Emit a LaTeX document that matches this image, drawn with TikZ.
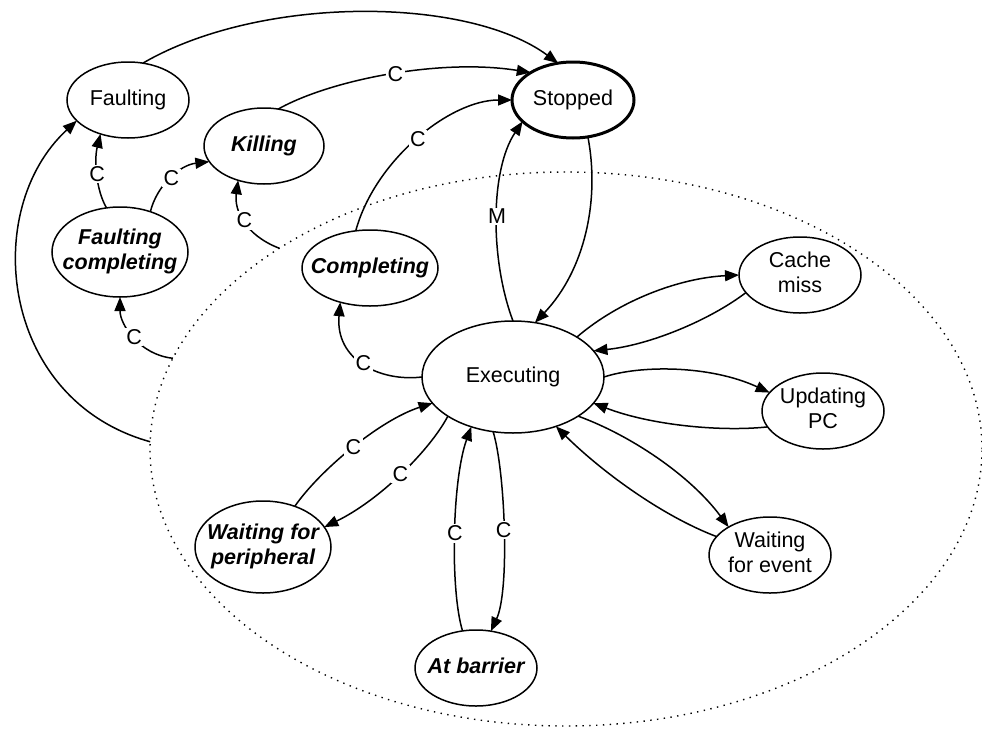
\documentclass[tikz,border=0pt]{standalone}
\usepackage{fontspec}
\setmainfont{Liberation Sans}
\usetikzlibrary{shapes.geometric,arrows.meta}
\newcommand{\statetext}[1]{\makebox[0pt]{\begin{tabular}{@{}c@{}}#1\end{tabular}}}
\begin{document}
\begin{tikzpicture}[x=1pt,y=-1pt,
  state/.style={draw, ellipse, fill=white, line width=1.5pt, inner sep=0pt, outer sep=0pt,
    font=\fontsize{21.5}{25}\selectfont, minimum width=122pt, minimum height=76pt},
  bstate/.style={state, font=\fontsize{21.5}{25}\selectfont\bfseries\itshape},
  conn/.style={line width=1.5pt, -{Triangle[length=14pt,width=11pt]}},
  lbl/.style={fill=white, inner sep=1.5pt, font=\fontsize{21.5}{25}\selectfont},
  grpstyle/.style={draw, ellipse, line width=1.4pt, dash pattern=on 1.4pt off 5.4pt,
    inner sep=0pt, outer sep=0pt, minimum width=832pt, minimum height=554pt}
]
\useasboundingbox (0,0) rectangle (982,728);
\node[grpstyle] (grp) at (566,449) {};

\node[state] (F) at (128,100) {\statetext{Faulting}};
\node[state, line width=3pt] (S) at (573,100) {\statetext{Stopped}};
\node[bstate, minimum width=120pt] (K) at (264,146) {\statetext{Killing}};
\node[bstate, minimum width=136pt, minimum height=90pt] (FC) at (120,252) {\statetext{Faulting\\completing}};
\node[bstate, minimum width=136pt] (Co) at (370,268) {\statetext{Completing}};
\node[state] (CM) at (800,275) {\statetext{Cache\\miss}};
\node[state, minimum width=182pt, minimum height=112pt] (E) at (513,377) {\statetext{Executing}};
\node[state] (U) at (823,411) {\statetext{Updating\\PC}};
\node[bstate, minimum width=136pt, minimum height=92pt] (WP) at (263,547) {\statetext{Waiting for\\peripheral}};
\node[state] (WE) at (770,555) {\statetext{Waiting\\for event}};
\node[bstate] (AB) at (476,668) {\statetext{At barrier}};

% to Stopped
\draw[conn] (F.68.5) .. controls (260,-5) and (467,-4) .. (S.112.8);
\draw[conn] (K.69.8) .. controls (330,80) and (440,58) .. node[lbl,pos=0.52]{C} (S.147.9);
\draw[conn] (Co.111.5) .. controls (375,160) and (450,100) .. node[lbl]{C} (S.180);
\draw[conn] (E.90) .. controls (490,260) and (490,170) .. node[lbl]{M} (S.203.2);
\draw[conn] (S.-68.5) .. controls (600,200) and (585,270) .. (E.68.2);

% completing / faulting
\draw[conn] (E.180) .. controls (380,382) and (335,360) .. node[lbl]{C} (Co.229.9);
\draw[conn] (FC.107.6) .. controls (96,190) and (94,160) .. node[lbl]{C} (F.231.7);
\draw[conn] (FC.53.6) .. controls (157,185) and (180,165) .. node[lbl]{C} (K.196.9);
\draw[conn] (grp.145.8) .. controls (245,235) and (234,210) .. node[lbl]{C} (K.233.9);
\draw[conn] (grp.167.8) .. controls (140,355) and (120,325) .. node[lbl]{C} (FC.270);
\draw[conn] (grp.179.7) .. controls (0,400) and (-20,210) .. (F.202.3);

% right side
\draw[conn] (E.32.9) .. controls (620,300) and (680,278) .. (CM.180);
\draw[conn] (CM.198.1) .. controls (710,320) and (650,345) .. (E.18.2);
\draw[conn] (E.0) .. controls (640,365) and (710,365) .. (U.161.9);
\draw[conn] (U.196.9) .. controls (720,432) and (650,425) .. (E.-18.2);
\draw[conn] (E.-31.6) .. controls (630,435) and (690,475) .. (WE.146);
\draw[conn] (WE.161.9) .. controls (660,515) and (600,470) .. (E.-49.2);

% bottom
\draw[conn] (E.250.3) .. controls (505,470) and (510,590) .. node[lbl]{C} (AB.68.2);
\draw[conn] (AB.110.2) .. controls (450,590) and (452,480) .. node[lbl]{C} (E.230.9);
\draw[conn] (E.211.6) .. controls (430,450) and (380,500) .. node[lbl]{C} (WP.18.7);
\draw[conn] (WP.52.7) .. controls (320,470) and (380,420) .. node[lbl]{C} (E.198);
\end{tikzpicture}
\end{document}
